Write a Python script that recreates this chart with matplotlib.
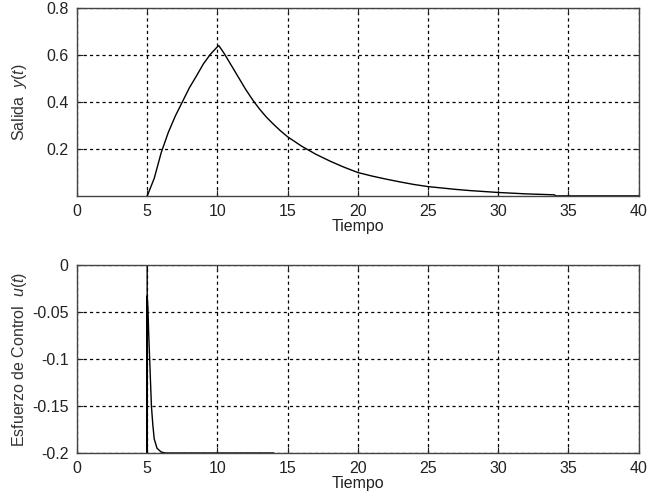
import matplotlib
matplotlib.use("Agg")
import matplotlib.pyplot as plt

plt.rcParams['font.family'] = ['Liberation Sans', 'DejaVu Sans']
plt.rcParams['mathtext.fontset'] = 'custom'
plt.rcParams['mathtext.rm'] = 'Liberation Sans'
plt.rcParams['mathtext.it'] = 'Liberation Sans:italic'

# Output y(t)
t_y = [5, 5.5, 6, 6.5, 7, 7.5, 8, 8.5, 9, 9.5, 10, 10.1,
       10.5, 11, 11.5, 12, 12.5, 13, 13.5, 14, 14.5, 15, 16, 17, 18, 19,
       20, 21, 22, 23, 24, 25, 26, 27, 28, 29, 30, 31, 32, 33, 34, 34.1, 40]
y_vals = [0, 0.075, 0.185, 0.27, 0.34, 0.40, 0.46, 0.51, 0.562, 0.603, 0.635, 0.64,
          0.605, 0.555, 0.505, 0.455, 0.41, 0.37, 0.335, 0.305, 0.277, 0.252, 0.212, 0.178, 0.149, 0.123,
          0.10, 0.085, 0.072, 0.060, 0.049, 0.040, 0.034, 0.028, 0.023, 0.019, 0.015, 0.012, 0.009, 0.007, 0.005, 0.0005, 0.0005]

# Control effort u(t)
t_u = [5, 5, 5.0, 5.05, 5.1, 5.15, 5.2, 5.25, 5.3, 5.4, 5.5, 5.7, 6.0, 6.3, 14]
u_vals = [0, -0.2, -0.033, -0.045, -0.07, -0.09, -0.11, -0.13, -0.15, -0.17, -0.185, -0.195, -0.199, -0.2, -0.2]

x_ticks = [0, 5, 10, 15, 20, 25, 30, 35, 40]
y_ticks_top = [0.2, 0.4, 0.6, 0.8]
y_ticks_bottom = [0, -0.05, -0.1, -0.15, -0.2]
y_ticklabels_bottom = ['0', '-0.05', '-0.1', '-0.15', '-0.2']

W, H = 648, 501
fig = plt.figure(figsize=(W / 100, H / 100), dpi=100)
left = 77 / W
width = (638.6 - 77) / W
ax1 = fig.add_axes([left, 1 - 196 / H, width, 188 / H])
ax2 = fig.add_axes([left, 1 - 453 / H, width, 188 / H])

for ax in (ax1, ax2):
    ax.set_xlim(0, 40)
    ax.set_xticks(x_ticks)
    ax.grid(True, color='black', linestyle=(0, (2.5, 2.5)), linewidth=0.9)
    ax.tick_params(direction='in', length=4, top=True, right=True,
                   labelsize=11.5, colors='#222222', pad=6)
    for s in ax.spines.values():
        s.set_color('#444444')
        s.set_linewidth(1.0)
    ax.set_xlabel('Tiempo', fontsize=11.5, color='#222222', labelpad=0)
    ax.yaxis.set_label_coords(-0.085, 0.5)

ax1.plot(t_y, y_vals, color='black', linewidth=1.0)
ax1.set_ylim(0, 0.8)
ax1.set_yticks(y_ticks_top)
ax1.set_ylabel(r'Salida  $\it{y(t)}$', fontsize=11.5, color='#333333')

ax2.plot(t_u, u_vals, color='black', linewidth=1.0)
ax2.set_ylim(-0.2, 0)
ax2.set_yticks(y_ticks_bottom)
ax2.set_yticklabels(y_ticklabels_bottom)
ax2.set_ylabel(r'Esfuerzo de Control  $\it{u(t)}$', fontsize=11.5, color='#333333')

fig.savefig('out.png', dpi=100)
